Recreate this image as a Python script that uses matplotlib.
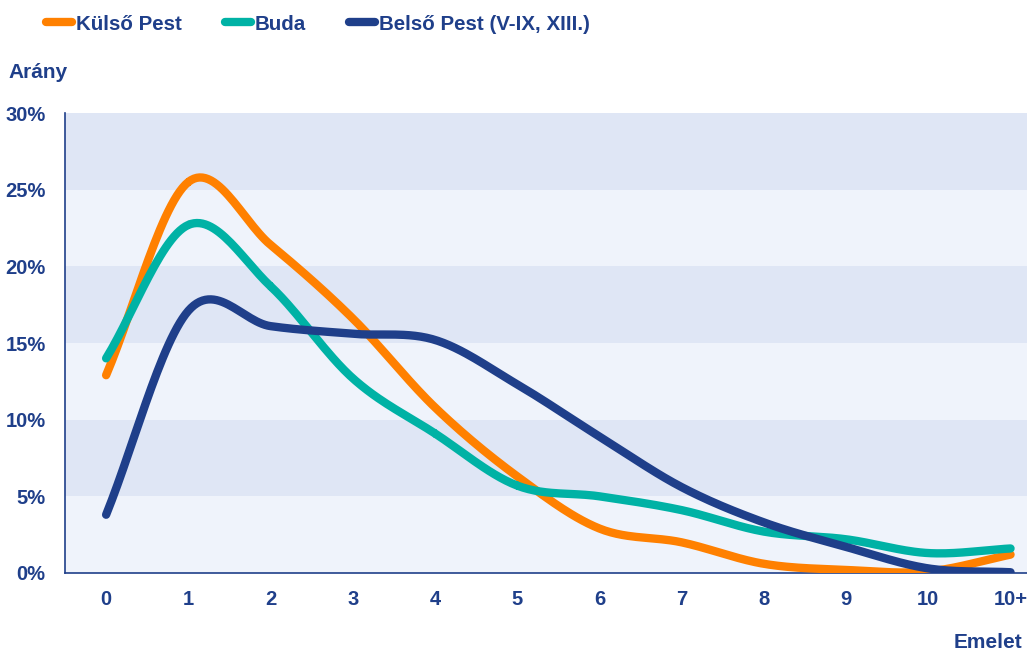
import matplotlib.pyplot as plt
import numpy as np
from matplotlib.lines import Line2D

# data
floors = ["0", "1", "2", "3", "4", "5", "6", "7", "8", "9", "10", "10+"]
kulso_pest = [12.9, 25.5, 21.4, 16.6, 10.8, 6.3, 2.9, 2.0, 0.6, 0.2, 0.1, 1.2]
buda = [14.0, 22.7, 18.7, 12.7, 9.1, 5.7, 5.0, 4.1, 2.7, 2.2, 1.3, 1.6]
belso_pest = [3.8, 17.1, 16.1, 15.6, 15.2, 12.3, 8.9, 5.6, 3.3, 1.7, 0.3, 0.05]

NAVY = "#1f3f8a"
colors = ["#ff8000", "#00b2a5", NAVY]
names = ["Külső Pest", "Buda", "Belső Pest (V-IX, XIII.)"]


def smooth(x, y, n=30):
  """ Catmull-Rom style smoothing, similar to spreadsheet smoothed lines. """
  x = np.asarray(x, float)
  y = np.asarray(y, float)
  px = np.concatenate([[2 * x[0] - x[1]], x, [2 * x[-1] - x[-2]]])
  py = np.concatenate([[2 * y[0] - y[1]], y, [2 * y[-1] - y[-2]]])
  xs, ys = [], []
  t = np.linspace(0, 1, n)
  for i in range(1, len(px) - 2):
    for p, out in ((px, xs), (py, ys)):
      p0, p1, p2, p3 = p[i - 1], p[i], p[i + 1], p[i + 2]
      out.extend(0.5 * ((2 * p1) + (-p0 + p2) * t
                        + (2 * p0 - 5 * p1 + 4 * p2 - p3) * t ** 2
                        + (-p0 + 3 * p1 - 3 * p2 + p3) * t ** 3))
  return np.array(xs), np.array(ys)


plt.rcParams["font.family"] = ["Liberation Sans", "DejaVu Sans"]
plt.rcParams["font.weight"] = "bold"

fig = plt.figure(figsize=(10.27, 6.53), dpi=100)
ax = fig.add_axes([65 / 1027, 80 / 653, 962 / 1027, 460 / 653])

# alternating horizontal bands
for k in range(6):
  ax.axhspan(k * 5, (k + 1) * 5, color="#dfe6f5" if k % 2 else "#eff3fb", lw=0, zorder=0)

xpos = np.arange(len(floors))
for vals, c in zip([kulso_pest, buda, belso_pest], colors):
  sx, sy = smooth(xpos, vals)
  ax.plot(sx, sy, color=c, lw=6, solid_capstyle="round", zorder=3)

ax.set_xlim(-0.5, 11.2)
ax.set_ylim(0, 30)
ax.set_xticks(xpos)
ax.set_xticklabels(floors)
ax.set_yticks(range(0, 31, 5))
ax.set_yticklabels([f"{v}%" for v in range(0, 31, 5)])
ax.tick_params(length=0, labelsize=14.5, labelcolor=NAVY)
ax.tick_params(axis="x", pad=12)
ax.tick_params(axis="y", pad=14)
for s in ["top", "right"]:
  ax.spines[s].set_visible(False)
for s in ["left", "bottom"]:
  ax.spines[s].set_color(NAVY)
  ax.spines[s].set_linewidth(1.2)

fig.text(8 / 1027, 1 - 73 / 653, "Arány", color=NAVY, fontsize=15, va="center")
fig.text(1022 / 1027, 1 - 643 / 653, "Emelet", color=NAVY, fontsize=15, va="center", ha="right")

handles = [Line2D([], [], color=c, lw=6, solid_capstyle="round") for c in colors]
fig.legend(handles, names, loc="center left", bbox_to_anchor=(46 / 1027, 1 - 24 / 653),
           ncol=3, frameon=False, fontsize=14.8, labelcolor=NAVY, handlelength=1.25,
           handletextpad=0.2, columnspacing=2.1, borderaxespad=0, borderpad=0)

fig.savefig("out.png", dpi=100)
